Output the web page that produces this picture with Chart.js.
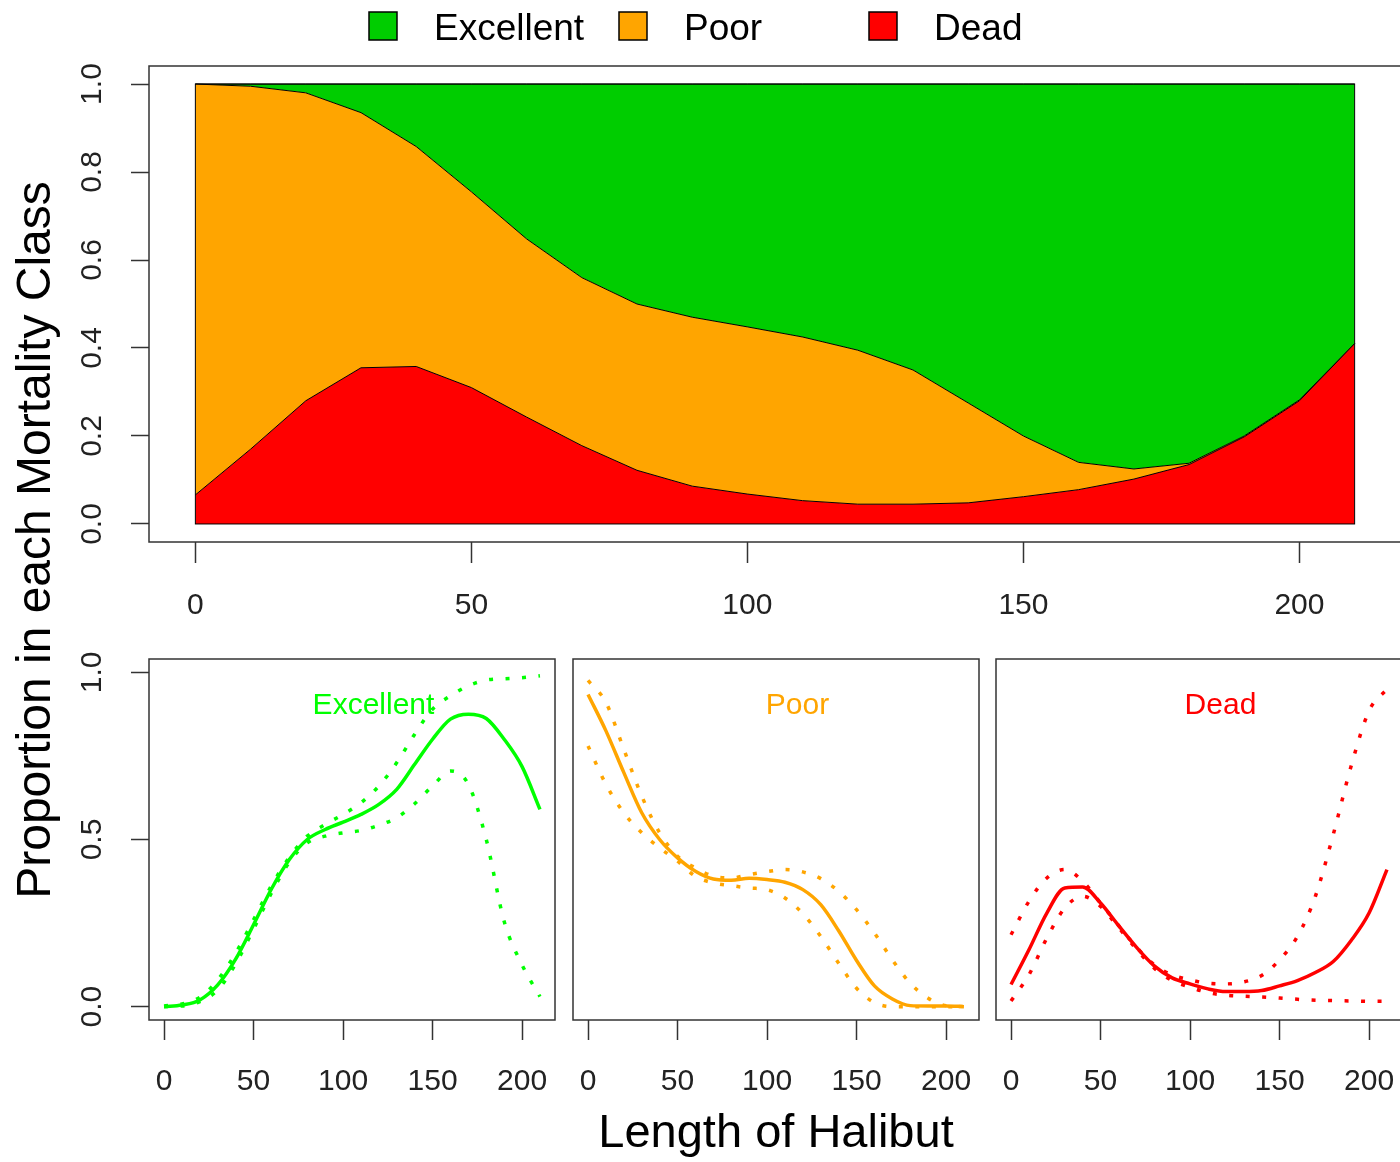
<!DOCTYPE html>
<html>
<head>
<meta charset="utf-8">
<title>Mortality class by halibut length</title>
<script src="https://cdn.jsdelivr.net/npm/chart.js@4.4.1/dist/chart.umd.min.js"></script>
<style>
  html, body { margin: 0; padding: 0; background: #ffffff; overflow: hidden; width: 1400px; height: 1162px; }
  canvas { position: absolute; }
</style>
</head>
<body>
<canvas id="stackChart" width="1402" height="1162" style="left:0;top:0;width:1402px;height:1162px"></canvas>
<canvas id="excChart" width="560" height="460" style="left:0;top:640px;width:560px;height:460px"></canvas>
<canvas id="poorChart" width="440" height="522" style="left:560px;top:640px;width:440px;height:522px"></canvas>
<canvas id="deadChart" width="420" height="460" style="left:983px;top:640px;width:420px;height:460px"></canvas>
<script>
// ---- data -------------------------------------------------------------
const lengths = [0, 10, 20, 30, 40, 50, 60, 70, 80, 90, 100, 110, 120, 130, 140, 150, 160, 170, 180, 190, 200, 210];
const xTicks = [0, 50, 100, 150, 200];
const yTicksStack = [0, 0.2, 0.4, 0.6, 0.8, 1.0];
const yTicksPanel = [0, 0.5, 1.0];
const classNames = ['Excellent', 'Poor', 'Dead'];

// fitted proportions in each class
const propExcellent = [0.000, 0.005, 0.020, 0.065, 0.142, 0.245, 0.352, 0.440, 0.500, 0.530, 0.552, 0.575, 0.605, 0.650, 0.725, 0.800, 0.860, 0.875, 0.862, 0.800, 0.718, 0.590];
const propPoor      = [0.934, 0.825, 0.700, 0.580, 0.500, 0.445, 0.405, 0.382, 0.378, 0.384, 0.380, 0.372, 0.350, 0.305, 0.227, 0.138, 0.062, 0.023, 0.003, 0.002, 0.002, 0.000];
const propDead      = [0.066, 0.170, 0.280, 0.355, 0.358, 0.310, 0.243, 0.178, 0.122, 0.086, 0.068, 0.053, 0.045, 0.045, 0.048, 0.062, 0.078, 0.102, 0.135, 0.198, 0.280, 0.410];

// confidence bands
const excellentLower = [0.000, 0.002, 0.015, 0.050, 0.128, 0.232, 0.340, 0.432, 0.490, 0.510, 0.520, 0.527, 0.543, 0.565, 0.607, 0.660, 0.705, 0.665, 0.500, 0.255, 0.125, 0.030];
const excellentUpper = [0.002, 0.008, 0.028, 0.080, 0.160, 0.260, 0.362, 0.447, 0.510, 0.545, 0.575, 0.610, 0.660, 0.730, 0.815, 0.890, 0.930, 0.960, 0.977, 0.981, 0.984, 0.990];
const poorLower      = [0.780, 0.665, 0.580, 0.520, 0.475, 0.435, 0.390, 0.370, 0.362, 0.355, 0.350, 0.325, 0.278, 0.210, 0.130, 0.055, 0.012, 0.000, 0.000, 0.000, 0.000, 0.000];
const poorUpper      = [0.976, 0.910, 0.770, 0.630, 0.520, 0.450, 0.415, 0.390, 0.385, 0.395, 0.404, 0.410, 0.403, 0.383, 0.345, 0.290, 0.220, 0.140, 0.070, 0.025, 0.003, 0.000];
const deadLower      = [0.017, 0.095, 0.205, 0.295, 0.330, 0.300, 0.237, 0.172, 0.115, 0.078, 0.058, 0.042, 0.034, 0.031, 0.029, 0.026, 0.022, 0.019, 0.018, 0.017, 0.016, 0.016];
const deadUpper      = [0.215, 0.315, 0.385, 0.410, 0.375, 0.310, 0.243, 0.178, 0.125, 0.095, 0.080, 0.070, 0.068, 0.074, 0.093, 0.140, 0.210, 0.330, 0.515, 0.720, 0.885, 0.950];

// ---- styling ----------------------------------------------------------
const FONT = '"Liberation Sans", Arial, Helvetica, sans-serif';
const AXIS_COL = '#333333';
const TICK_COL = '#222222';
const fillColours = { Excellent: '#00CD00', Poor: '#FFA500', Dead: '#FF0000' };
const lineColours = { Excellent: '#00FF00', Poor: '#FFA500', Dead: '#FF0000' };
const X_MIN = -8.4, X_MAX = 218.4;

Chart.defaults.font.family = FONT;
Chart.defaults.color = TICK_COL;
Chart.defaults.animation = false;

const toPoints = ys => lengths.map((x, i) => ({ x: x, y: ys[i] }));
const fixedTicks = values => scale => { scale.ticks = values.map(v => ({ value: v })); };
// keep the plot region exactly where the layout padding puts it
const noLabelPadding = s => { s.paddingLeft = 0; s.paddingRight = 0; s.paddingTop = 0; s.paddingBottom = 0; };

// plot-region frame, like a base-graphics box()
const framePlugin = {
  id: 'frame',
  afterDatasetsDraw(chart) {
    const { ctx, chartArea: a } = chart;
    ctx.save();
    ctx.strokeStyle = AXIS_COL;
    ctx.lineWidth = 1.5;
    ctx.strokeRect(a.left, a.top, a.right - a.left, a.bottom - a.top);
    ctx.restore();
  }
};

// outline of the stacked polygons (left, right and bottom edges)
const polygonEdge = {
  id: 'polygonEdge',
  afterDatasetsDraw(chart) {
    const { ctx, scales: { x, y } } = chart;
    const x0 = x.getPixelForValue(lengths[0]);
    const x1 = x.getPixelForValue(lengths[lengths.length - 1]);
    const y0 = y.getPixelForValue(0);
    const y1 = y.getPixelForValue(1);
    ctx.save();
    ctx.strokeStyle = '#000';
    ctx.lineWidth = 1;
    ctx.strokeRect(x0, y1, x1 - x0, y0 - y1);
    ctx.restore();
  }
};

// horizontal legend across the top of the figure
const stackLegend = {
  id: 'stackLegend',
  afterDraw(chart, args, o) {
    const ctx = chart.ctx;
    ctx.save();
    ctx.font = o.size + 'px ' + FONT;
    ctx.textBaseline = 'alphabetic';
    ctx.textAlign = 'left';
    classNames.forEach((name, i) => {
      const ds = chart.data.datasets.find(d => d.label === name);
      const bx = o.x + i * o.step;
      ctx.fillStyle = ds.backgroundColor;
      ctx.fillRect(bx, o.y, o.box, o.box);
      ctx.strokeStyle = '#000';
      ctx.lineWidth = 1.5;
      ctx.strokeRect(bx, o.y, o.box, o.box);
      ctx.fillStyle = '#000';
      ctx.fillText(name, bx + o.textGap, o.baseline);
    });
    ctx.restore();
  }
};

// shared y-axis title for the whole figure
const outerYTitle = {
  id: 'outerYTitle',
  afterDraw(chart, args, o) {
    const ctx = chart.ctx;
    ctx.save();
    ctx.translate(o.x, o.y);
    ctx.rotate(-Math.PI / 2);
    ctx.font = o.size + 'px ' + FONT;
    ctx.textAlign = 'center';
    ctx.textBaseline = 'alphabetic';
    ctx.fillStyle = '#000';
    ctx.fillText(o.text, 0, 0);
    ctx.restore();
  }
};

// class name written inside each small panel
const panelLabel = {
  id: 'panelLabel',
  afterDatasetsDraw(chart, args, o) {
    const { ctx, scales: { x, y } } = chart;
    ctx.save();
    ctx.font = o.size + 'px ' + FONT;
    ctx.textAlign = 'center';
    ctx.textBaseline = 'middle';
    ctx.fillStyle = o.color;
    ctx.fillText(o.text, x.getPixelForValue(o.at[0]), y.getPixelForValue(o.at[1]));
    ctx.restore();
  }
};

const xAxis = (height, tickLen, pad, extra) => Object.assign({
  type: 'linear',
  min: X_MIN,
  max: X_MAX,
  afterBuildTicks: fixedTicks(xTicks),
  afterFit: s => { s.height = height; noLabelPadding(s); },
  border: { display: false },
  grid: { drawOnChartArea: false, drawTicks: true, tickLength: tickLen, tickColor: AXIS_COL, tickWidth: 1.5 },
  ticks: { font: { size: 30 }, color: TICK_COL, padding: pad, maxRotation: 0, minRotation: 0, autoSkip: false }
}, extra || {});

const yAxis = (tickValues, yMin, yMax, stacked) => ({
  type: 'linear',
  stacked: stacked,
  min: yMin,
  max: yMax,
  afterBuildTicks: fixedTicks(tickValues),
  afterFit: s => { s.width = 149; noLabelPadding(s); },
  border: { display: false },
  grid: { drawOnChartArea: false, drawTicks: true, tickLength: 18, tickColor: AXIS_COL, tickWidth: 1.5 },
  ticks: {
    font: { size: 30 }, color: TICK_COL, padding: 17,
    minRotation: 90, maxRotation: 90, crossAlign: 'center', autoSkip: false,
    callback: v => Number(v).toFixed(1)
  }
});

// ---- stacked area chart -----------------------------------------------
const stackSeries = [
  { name: 'Dead', values: propDead, fill: 'origin' },
  { name: 'Poor', values: propPoor, fill: '-1' },
  { name: 'Excellent', values: propExcellent, fill: '-1' }
];

new Chart(document.getElementById('stackChart'), {
  type: 'line',
  data: {
    datasets: stackSeries.map(s => ({
      label: s.name,
      data: toPoints(s.values),
      backgroundColor: fillColours[s.name],
      borderColor: '#000',
      borderWidth: 1,
      fill: s.fill,
      pointRadius: 0,
      tension: 0
    }))
  },
  options: {
    responsive: false,
    layout: { padding: { top: 66, right: 1, left: 0, bottom: 0 } },
    plugins: {
      legend: { display: false },
      tooltip: { enabled: false },
      stackLegend: { x: 369, step: 250, y: 12, box: 28, textGap: 65, baseline: 40, size: 37 },
      outerYTitle: { text: 'Proportion in each Mortality Class', x: 50, y: 540, size: 48 }
    },
    scales: {
      x: xAxis(1162 - 542, 21, 25),
      y: yAxis(yTicksStack, -0.041, 1.041, true)
    }
  },
  plugins: [polygonEdge, framePlugin, stackLegend, outerYTitle]
});

// ---- small panels: fit with confidence band ---------------------------
function panel(canvasId, name, mid, lower, upper, opts) {
  const colour = lineColours[name];
  const dotted = values => ({
    data: toPoints(values), borderColor: colour, borderWidth: 3.5,
    borderDash: [4, 12.5], borderCapStyle: 'butt', pointRadius: 0,
    cubicInterpolationMode: 'monotone', fill: false
  });
  new Chart(document.getElementById(canvasId), {
    type: 'line',
    data: {
      datasets: [
        Object.assign({ label: name + ' upper' }, dotted(upper)),
        Object.assign({ label: name + ' lower' }, dotted(lower)),
        { label: name, data: toPoints(mid), borderColor: colour, borderWidth: 3.5,
          pointRadius: 0, cubicInterpolationMode: 'monotone', fill: false }
      ]
    },
    options: {
      responsive: false,
      layout: { padding: opts.padding },
      plugins: {
        legend: { display: false },
        tooltip: { enabled: false },
        panelLabel: { text: name, color: colour, at: [117, 0.9], size: 30 }
      },
      scales: {
        x: xAxis(opts.xHeight, 20, 24, opts.xTitle ? {
          title: { display: true, text: opts.xTitle, color: '#000', font: { size: 47 }, padding: { top: 0, bottom: 0 } }
        } : {}),
        y: opts.showY ? yAxis(yTicksPanel, -0.04, 1.04, false)
                      : { type: 'linear', display: false, min: -0.04, max: 1.04 }
      }
    },
    plugins: [framePlugin, panelLabel]
  });
}

panel('excChart', 'Excellent', propExcellent, excellentLower, excellentUpper,
  { padding: { top: 19, right: 5, left: 0, bottom: 0 }, xHeight: 80, showY: true });
panel('poorChart', 'Poor', propPoor, poorLower, poorUpper,
  { padding: { top: 19, right: 21, left: 13, bottom: 0 }, xHeight: 142, showY: false, xTitle: 'Length of Halibut' });
panel('deadChart', 'Dead', propDead, deadLower, deadUpper,
  { padding: { top: 19, right: 1, left: 13, bottom: 0 }, xHeight: 80, showY: false });
</script>
</body>
</html>
